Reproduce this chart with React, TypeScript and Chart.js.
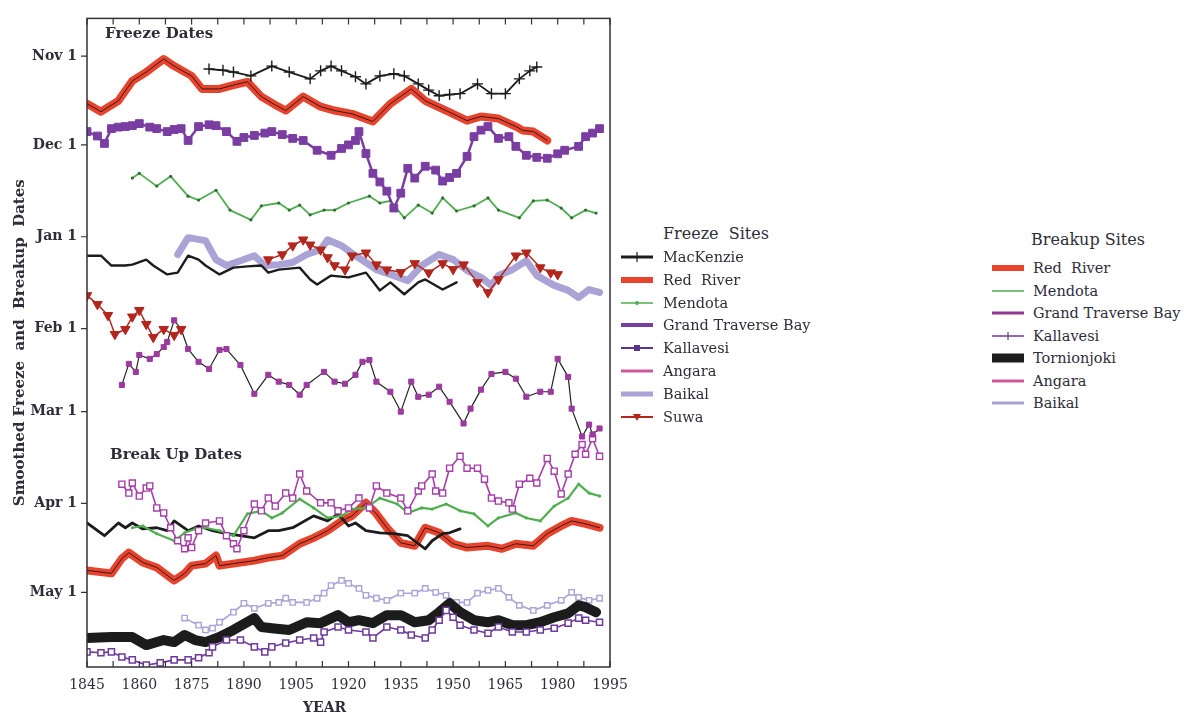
import React, { useEffect, useRef } from 'react';
import { Chart, registerables } from 'chart.js';

Chart.register(...registerables);

const FONT = "'DejaVu Serif', 'Liberation Serif', serif";
const TEXT = '#2e2e3a';

// Axis ticks
const yearTicks = [1845, 1860, 1875, 1890, 1905, 1920, 1935, 1950, 1965, 1980, 1995];
// days after Nov 1
const dateTickDays = [0, 30, 61, 92, 120, 151, 181];
const dateTickLabels = ['Nov 1', 'Dec 1', 'Jan 1', 'Feb 1', 'Mar 1', 'Apr 1', 'May 1'];

// ---------- Freeze series: [year, days after Nov 1] ----------
const mackenzieFreeze: [number, number][] = [
  [1880, 4.4], [1884, 4.8], [1887, 5.4], [1892, 6.7], [1898, 3.4], [1903, 5.4], [1909, 7.7], [1912, 5.0],
  [1915, 3.4], [1918, 5.0], [1922, 7.0], [1925, 9.4], [1929, 6.7], [1933, 6.0], [1936, 6.7], [1940, 9.4],
  [1943, 11.5], [1946, 13.4], [1949, 13.0], [1952, 12.7], [1957, 9.4], [1961, 12.7], [1965, 12.7],
  [1969, 7.7], [1972, 5.0], [1974, 3.7],
];
const redRiverFreeze: [number, number][] = [
  [1845, 16.1], [1849, 18.8], [1854, 15.1], [1858, 8.4], [1862, 5.4], [1867, 1.0], [1870, 3.4], [1875, 6.7],
  [1878, 11.1], [1883, 11.1], [1887, 9.8], [1891, 8.7], [1895, 13.7], [1899, 16.5], [1902, 18.4], [1907, 13.7],
  [1912, 17.1], [1916, 18.4], [1921, 19.5], [1927, 22.1], [1932, 16.1], [1938, 11.1], [1942, 15.1],
  [1948, 18.4], [1954, 21.8], [1958, 20.4], [1963, 21.1], [1968, 23.8], [1970, 25.1], [1973, 25.5], [1977, 28.5],
];
const kallavesiFreeze: [number, number][] = [
  [1845, 25.5], [1848, 27.0], [1850, 29.5], [1852, 24.5], [1854, 24.0], [1856, 23.8], [1858, 23.5], [1860, 22.8],
  [1863, 24.0], [1865, 24.5], [1868, 25.5], [1870, 24.8], [1872, 24.5], [1874, 28.5], [1877, 23.8], [1880, 23.2],
  [1882, 23.5], [1885, 25.5], [1888, 28.8], [1890, 27.5], [1893, 26.8], [1896, 26.0], [1898, 25.5], [1901, 26.5],
  [1904, 27.8], [1907, 28.5], [1911, 31.8], [1915, 33.5], [1918, 31.2], [1920, 30.0], [1922, 28.5], [1923, 25.5],
  [1925, 32.9], [1927, 39.6], [1929, 42.5], [1931, 45.6], [1933, 51.3], [1935, 46.3], [1937, 37.9], [1939, 41.2],
  [1942, 37.2], [1945, 38.5], [1947, 42.2], [1949, 41.0], [1951, 39.6], [1954, 33.9], [1956, 27.2], [1958, 25.0],
  [1960, 23.8], [1963, 27.8], [1966, 27.2], [1968, 30.5], [1971, 33.5], [1974, 34.2], [1977, 34.5], [1980, 33.0],
  [1982, 31.8], [1986, 30.5], [1988, 27.2], [1990, 26.0], [1992, 24.5],
];
const mendotaFreeze: [number, number][] = [
  [1858, 41.2], [1860, 39.6], [1865, 43.9], [1869, 40.6], [1874, 47.3], [1877, 48.6], [1882, 45.3], [1886, 52.0],
  [1892, 55.3], [1895, 50.6], [1900, 49.6], [1903, 52.0], [1906, 50.3], [1909, 53.6], [1913, 52.0], [1916, 52.0],
  [1920, 49.6], [1926, 47.3], [1929, 49.6], [1932, 48.9], [1936, 54.6], [1940, 50.3], [1944, 53.0], [1947, 47.9],
  [1951, 52.3], [1956, 50.6], [1960, 47.9], [1963, 52.0], [1969, 54.6], [1973, 48.9], [1977, 48.6], [1981, 51.3],
  [1984, 54.6], [1988, 52.0], [1991, 53.0],
];
const angaraFreeze: [number, number][] = [
  [1845, 67.4], [1849, 67.4], [1852, 70.7], [1856, 70.7], [1858, 70.4], [1862, 68.7], [1864, 70.7], [1868, 73.7],
  [1871, 73.1], [1874, 67.4], [1877, 68.7], [1879, 70.7], [1883, 73.7], [1887, 71.4], [1891, 71.0], [1895, 70.7],
  [1897, 73.1], [1900, 72.1], [1906, 71.4], [1909, 75.4], [1911, 77.1], [1915, 74.1], [1920, 74.7], [1925, 73.1],
  [1929, 79.1], [1932, 76.4], [1936, 80.4], [1940, 76.4], [1942, 75.4], [1947, 78.8], [1951, 76.4],
];
const baikalFreeze: [number, number][] = [
  [1871, 67.0], [1874, 61.3], [1879, 62.3], [1882, 68.7], [1885, 70.7], [1889, 69.1], [1893, 67.4], [1896, 70.7],
  [1900, 70.4], [1904, 69.7], [1908, 67.0], [1912, 65.4], [1914, 62.0], [1918, 64.0], [1922, 67.4], [1925, 69.7],
  [1928, 72.1], [1932, 73.7], [1937, 75.8], [1941, 70.7], [1946, 67.0], [1950, 68.7], [1954, 72.4], [1958, 74.7],
  [1961, 77.4], [1963, 74.1], [1967, 72.1], [1971, 69.1], [1974, 74.1], [1979, 77.4], [1983, 79.1], [1986, 81.5],
  [1989, 78.8], [1992, 79.8],
];
const suwaFreeze: [number, number | null][] = [
  [1845, 80.8], [1848, 83.8], [1851, 87.5], [1853, 93.9], [1856, 92.2], [1858, 88.0], [1860, 85.8], [1862, 90.5],
  [1864, 94.9], [1867, 92.2], [1870, 94.2], [1872, 92.2], [1885, null],
  [1897, 68.7], [1901, 67.0], [1904, 64.0], [1907, 62.0], [1909, 63.7], [1912, 65.4], [1914, 68.0], [1916, 70.7],
  [1919, 72.1], [1921, 67.4], [1925, 66.4], [1928, 70.4], [1931, 72.1], [1935, 73.0], [1939, 70.0], [1943, 73.1],
  [1947, 70.0], [1950, 72.0], [1953, 70.4], [1957, 76.4], [1960, 79.8], [1963, 75.4], [1968, 67.4], [1971, 66.4],
  [1975, 71.4], [1978, 73.1], [1980, 73.7],
];
const grandTraverseFreeze: [number, number][] = [
  [1855, 111.0], [1857, 103.9], [1859, 106.6], [1860, 100.9], [1863, 102.2], [1865, 100.6], [1867, 98.2],
  [1868, 96.5], [1870, 89.2], [1872, 92.2], [1874, 98.9], [1877, 103.2], [1880, 105.6], [1883, 99.2], [1885, 98.9],
  [1889, 104.3], [1893, 114.0], [1897, 107.6], [1900, 109.9], [1903, 111.0], [1906, 114.3], [1908, 111.0],
  [1913, 106.6], [1916, 109.9], [1919, 110.6], [1922, 107.6], [1924, 103.2], [1926, 102.6], [1928, 109.9],
  [1932, 113.3], [1935, 120.0], [1938, 109.9], [1940, 115.0], [1943, 114.3], [1946, 111.6], [1949, 116.7],
  [1953, 124.0], [1955, 119.0], [1958, 112.6], [1961, 107.3], [1965, 106.6], [1968, 108.9], [1971, 115.0],
  [1975, 113.3], [1978, 113.3], [1980, 102.2], [1983, 108.3], [1984, 119.0], [1987, 128.4], [1989, 124.4],
  [1990, 127.7], [1992, 125.7],
];

// ---------- Breakup series ----------
const grandTraverseBreakup: [number, number][] = [
  [1855, 144.5], [1857, 147.5], [1858, 144.1], [1860, 148.5], [1862, 145.8], [1863, 145.1], [1865, 152.5],
  [1867, 154.2], [1869, 159.2], [1871, 163.6], [1873, 166.3], [1874, 162.6], [1875, 165.9], [1877, 160.2],
  [1879, 157.6], [1883, 156.9], [1885, 161.9], [1887, 164.6], [1888, 166.3], [1890, 160.2], [1893, 151.2],
  [1895, 153.5], [1897, 149.2], [1899, 151.9], [1902, 147.5], [1904, 149.2], [1906, 141.1], [1908, 146.8],
  [1912, 150.8], [1915, 150.8], [1917, 153.5], [1920, 152.5], [1923, 149.2], [1926, 152.5], [1928, 145.1],
  [1931, 147.5], [1935, 149.2], [1937, 153.5], [1940, 146.8], [1941, 145.1], [1944, 141.1], [1945, 146.8],
  [1947, 147.5], [1949, 139.1], [1952, 135.1], [1954, 139.1], [1957, 139.1], [1959, 142.8], [1961, 149.2],
  [1963, 150.2], [1966, 150.8], [1967, 152.9], [1969, 144.5], [1972, 142.5], [1974, 144.1], [1977, 135.8],
  [1979, 140.1], [1981, 147.8], [1983, 141.1], [1985, 134.4], [1987, 131.1], [1988, 134.4], [1990, 129.1],
  [1992, 135.1],
];
const mendotaBreakup: [number, number][] = [
  [1858, 159.2], [1861, 158.6], [1865, 161.2], [1870, 163.6], [1873, 160.9], [1876, 159.6], [1879, 159.2],
  [1883, 160.2], [1887, 161.9], [1891, 154.5], [1895, 153.5], [1898, 155.9], [1901, 154.2], [1906, 149.5],
  [1910, 152.5], [1914, 155.9], [1918, 155.2], [1921, 152.9], [1925, 152.5], [1929, 149.2], [1934, 151.2],
  [1937, 154.2], [1941, 152.5], [1944, 152.9], [1948, 151.2], [1952, 153.5], [1956, 154.5], [1960, 158.6],
  [1963, 155.9], [1968, 154.2], [1971, 155.9], [1975, 156.9], [1979, 151.9], [1983, 149.2], [1986, 144.5],
  [1989, 147.5], [1992, 148.5],
];
const angaraBreakup: [number, number][] = [
  [1845, 157.6], [1850, 161.9], [1854, 157.6], [1856, 159.2], [1858, 157.6], [1861, 159.6], [1865, 159.2],
  [1868, 160.2], [1870, 156.9], [1874, 160.2], [1877, 158.6], [1881, 160.2], [1885, 161.2], [1889, 161.9],
  [1893, 162.6], [1897, 160.2], [1900, 160.2], [1904, 159.2], [1910, 155.2], [1914, 156.9], [1917, 154.5],
  [1920, 158.6], [1922, 157.6], [1925, 160.2], [1929, 160.9], [1933, 161.2], [1937, 161.9], [1940, 164.6],
  [1942, 166.3], [1944, 163.6], [1947, 161.2], [1949, 160.9], [1952, 159.6],
];
const redRiverBreakup: [number, number][] = [
  [1845, 173.6], [1852, 174.6], [1855, 169.6], [1857, 167.6], [1861, 170.9], [1865, 172.6], [1870, 177.0],
  [1873, 174.6], [1875, 172.0], [1879, 171.3], [1882, 168.6], [1883, 172.0], [1887, 171.3], [1893, 170.3],
  [1897, 169.3], [1901, 168.6], [1906, 164.6], [1910, 162.6], [1914, 160.2], [1918, 156.9], [1921, 155.2],
  [1925, 150.8], [1928, 154.5], [1931, 159.2], [1935, 164.3], [1939, 165.3], [1942, 159.2], [1946, 160.9],
  [1950, 164.6], [1954, 165.9], [1960, 165.3], [1964, 166.3], [1968, 164.6], [1973, 165.3], [1977, 161.2],
  [1981, 158.6], [1984, 156.9], [1988, 157.9], [1992, 159.2],
];
const baikalBreakup: [number, number][] = [
  [1873, 189.7], [1877, 192.1], [1879, 193.7], [1881, 193.1], [1883, 191.1], [1887, 187.7], [1890, 184.7],
  [1893, 186.4], [1897, 184.7], [1900, 184.4], [1902, 183.0], [1904, 184.4], [1908, 184.4], [1911, 183.0],
  [1913, 181.3], [1915, 178.7], [1918, 177.0], [1920, 178.0], [1923, 179.7], [1925, 182.0], [1928, 183.0],
  [1931, 183.7], [1935, 181.3], [1939, 181.3], [1942, 179.7], [1945, 181.0], [1948, 182.0], [1951, 184.4],
  [1954, 184.4], [1957, 181.3], [1960, 180.3], [1963, 179.7], [1966, 182.7], [1969, 185.4], [1973, 187.1],
  [1977, 185.4], [1981, 183.7], [1984, 181.0], [1986, 182.7], [1989, 183.7], [1992, 183.0],
];
const tornionjokiBreakup: [number, number][] = [
  [1845, 196.4], [1852, 196.1], [1858, 196.1], [1862, 198.8], [1867, 197.1], [1870, 197.8], [1873, 195.4],
  [1876, 197.1], [1879, 197.8], [1883, 196.1], [1887, 193.7], [1893, 189.7], [1895, 192.7], [1898, 193.1],
  [1903, 193.7], [1908, 191.1], [1912, 191.4], [1917, 188.7], [1920, 191.1], [1923, 190.4], [1927, 191.4],
  [1931, 188.7], [1935, 188.7], [1939, 191.1], [1943, 190.4], [1946, 187.7], [1949, 184.7], [1952, 187.7],
  [1956, 190.4], [1960, 191.1], [1963, 190.4], [1967, 192.1], [1971, 192.1], [1975, 191.1], [1979, 189.4],
  [1983, 188.1], [1986, 185.4], [1988, 186.0], [1991, 187.7],
];
const kallavesiBreakup: [number, number][] = [
  [1845, 201.1], [1849, 201.4], [1852, 201.1], [1855, 202.8], [1858, 203.8], [1862, 205.5], [1866, 204.8],
  [1870, 203.8], [1874, 203.8], [1877, 203.1], [1880, 201.4], [1881, 199.4], [1885, 197.1], [1889, 197.1],
  [1893, 199.4], [1896, 201.1], [1898, 199.4], [1902, 198.1], [1906, 197.1], [1910, 196.4], [1912, 197.8],
  [1913, 194.4], [1917, 192.7], [1920, 193.7], [1925, 194.4], [1927, 196.4], [1931, 192.7], [1935, 193.7],
  [1938, 195.4], [1942, 196.4], [1944, 193.7], [1946, 190.4], [1948, 187.1], [1950, 189.4], [1952, 192.1],
  [1956, 193.7], [1960, 194.8], [1963, 192.7], [1967, 194.4], [1971, 194.4], [1975, 193.7], [1979, 193.1],
  [1983, 191.4], [1986, 189.7], [1988, 190.4], [1992, 191.1],
];

const freezeLegendLabels = ['MacKenzie', 'Red  River', 'Mendota', 'Grand Traverse Bay', 'Kallavesi', 'Angara', 'Baikal', 'Suwa'];
const breakupLegendLabels = ['Red  River', 'Mendota', 'Grand Traverse Bay', 'Kallavesi', 'Tornionjoki', 'Angara', 'Baikal'];

const C = {
  red: '#e8432d',
  black: '#1c1c1c',
  green: '#4fae4f',
  purple: '#7a3da2',
  magenta: '#9c3a9e',
  lavender: '#a9a3d6',
  suwa: '#b3261e',
  pink: '#d0559f',
  kbreak: '#6d3a9c',
};

const toXY = (s: [number, number | null][]) => s.map(([x, y]) => ({ x, y }));

function line(label: string, data: [number, number | null][], order: number, opts: any) {
  return {
    label,
    data: toXY(data),
    order,
    fill: false,
    tension: 0,
    pointRadius: 0,
    borderJoinStyle: 'round',
    borderCapStyle: 'round',
    spanGaps: false,
    ...opts,
  };
}

const framePlugin = {
  id: 'frame',
  afterDatasetsDraw(chart: any) {
    const { ctx, chartArea: a, scales } = chart;
    const xs = scales.x;
    const ys = scales.y;
    ctx.save();
    ctx.strokeStyle = '#333';
    ctx.lineWidth = 1.5;
    ctx.strokeRect(a.left, a.top, a.right - a.left, a.bottom - a.top);
    ctx.lineWidth = 1.2;
    const vals: number[] = [];
    yearTicks.forEach((v, i) => {
      vals.push(v);
      if (i < yearTicks.length - 1) vals.push((v + yearTicks[i + 1]) / 2);
    });
    ctx.beginPath();
    vals.forEach((v) => {
      const p = xs.getPixelForValue(v);
      ctx.moveTo(p, a.bottom);
      ctx.lineTo(p, a.bottom - 6);
      ctx.moveTo(p, a.top);
      ctx.lineTo(p, a.top + 6);
    });
    dateTickDays.forEach((v) => {
      const p = ys.getPixelForValue(v);
      ctx.moveTo(a.left - 6, p);
      ctx.lineTo(a.left, p);
    });
    ctx.stroke();
    ctx.restore();
  },
};

function Sample({ kind }: { kind: string }) {
  const w = 36;
  const h = 16;
  const m = h / 2;
  const L = (color: string, width: number) => (
    <line x1={2} y1={m} x2={w - 2} y2={m} stroke={color} strokeWidth={width} />
  );
  let body: React.ReactNode = null;
  switch (kind) {
    case 'mack':
      body = (<>{L(C.black, 3)}<line x1={w / 2} y1={m - 5} x2={w / 2} y2={m + 5} stroke={C.black} strokeWidth={1.2} /></>);
      break;
    case 'red':
      body = L(C.red, 6);
      break;
    case 'mendota':
      body = (<>{L(C.green, 1.5)}<circle cx={w / 2} cy={m} r={2} fill={C.green} /></>);
      break;
    case 'gtbF':
      body = L(C.purple, 4);
      break;
    case 'kallF':
      body = (<>{L('#5a3490', 2)}<rect x={w / 2 - 3} y={m - 3} width={6} height={6} fill="#5a3490" /></>);
      break;
    case 'angara':
      body = L(C.pink, 3);
      break;
    case 'baikalF':
      body = L(C.lavender, 5);
      break;
    case 'suwa':
      body = (<>{L(C.suwa, 2)}<polygon points={`${w / 2 - 4},${m - 3} ${w / 2 + 4},${m - 3} ${w / 2},${m + 4}`} fill={C.suwa} /></>);
      break;
    case 'mendotaB':
      body = L(C.green, 1.5);
      break;
    case 'gtbB':
      body = L('#8e3a90', 3);
      break;
    case 'kallB':
      body = (<>{L(C.kbreak, 1.5)}<line x1={w / 2} y1={m - 4} x2={w / 2} y2={m + 4} stroke={C.kbreak} strokeWidth={1.2} /></>);
      break;
    case 'torn':
      body = L(C.black, 9);
      break;
    case 'baikalB':
      body = L(C.lavender, 3);
      break;
  }
  return (
    <svg width={w} height={h} style={{ display: 'block' }}>
      {body}
    </svg>
  );
}

const freezeKinds = ['mack', 'red', 'mendota', 'gtbF', 'kallF', 'angara', 'baikalF', 'suwa'];
const breakupKinds = ['red', 'mendotaB', 'gtbB', 'kallB', 'torn', 'angara', 'baikalB'];

export default function App() {
  const ref = useRef<HTMLCanvasElement | null>(null);

  useEffect(() => {
    if (!ref.current) return;
    const datasets: any[] = [
      // freeze
      line('MacKenzie', mackenzieFreeze, 2, {
        borderColor: C.black, borderWidth: 1.8, pointStyle: 'cross', pointRadius: 5.5,
        pointBorderColor: C.black, pointBorderWidth: 1.4,
      }),
      line('Red River (freeze) core', redRiverFreeze, 3, { borderColor: '#3a1a14', borderWidth: 1 }),
      line('Red River (freeze)', redRiverFreeze, 4, { borderColor: C.red, borderWidth: 8 }),
      line('Kallavesi (freeze)', kallavesiFreeze, 5, {
        borderColor: C.purple, borderWidth: 2.5, pointStyle: 'rect', pointRadius: 5.5,
        pointBackgroundColor: C.purple, pointBorderColor: C.purple, pointBorderWidth: 1,
      }),
      line('Mendota (freeze)', mendotaFreeze, 6, {
        borderColor: C.green, borderWidth: 1.8, pointRadius: 1.6,
        pointBackgroundColor: '#2f6e2f', pointBorderColor: '#2f6e2f', pointBorderWidth: 0,
      }),
      line('Suwa', suwaFreeze, 7, {
        borderColor: C.suwa, borderWidth: 1.5, pointStyle: 'triangle', rotation: 180, pointRadius: 5.5,
        pointBackgroundColor: C.suwa, pointBorderColor: C.suwa, pointBorderWidth: 1,
      }),
      line('Angara (freeze)', angaraFreeze, 8, { borderColor: C.black, borderWidth: 2.4 }),
      line('Baikal (freeze)', baikalFreeze, 9, { borderColor: C.lavender, borderWidth: 7 }),
      line('Grand Traverse Bay (freeze)', grandTraverseFreeze, 10, {
        borderColor: '#222', borderWidth: 1.2, pointStyle: 'rect', pointRadius: 3.6,
        pointBackgroundColor: C.magenta, pointBorderColor: C.magenta, pointBorderWidth: 1,
      }),
      // breakup
      line('Grand Traverse Bay (breakup)', grandTraverseBreakup, 11, {
        borderColor: '#a53ea8', borderWidth: 1.6, pointStyle: 'rect', pointRadius: 4.3,
        pointBackgroundColor: '#ffffff', pointBorderColor: '#a53ea8', pointBorderWidth: 1.4,
      }),
      line('Mendota (breakup)', mendotaBreakup, 12, {
        borderColor: C.green, borderWidth: 2.2, pointRadius: 1.6,
        pointBackgroundColor: C.green, pointBorderColor: C.green, pointBorderWidth: 0,
      }),
      line('Angara (breakup)', angaraBreakup, 13, { borderColor: C.black, borderWidth: 2.8 }),
      line('Red River (breakup) core', redRiverBreakup, 14, { borderColor: '#3a1a14', borderWidth: 1 }),
      line('Red River (breakup)', redRiverBreakup, 15, { borderColor: C.red, borderWidth: 8 }),
      line('Kallavesi (breakup)', kallavesiBreakup, 16, {
        borderColor: C.kbreak, borderWidth: 1.6, pointStyle: 'rect', pointRadius: 4.3,
        pointBackgroundColor: '#ffffff', pointBorderColor: C.kbreak, pointBorderWidth: 1.5,
      }),
      line('Tornionjoki', tornionjokiBreakup, 17, { borderColor: C.black, borderWidth: 10 }),
      line('Baikal (breakup)', baikalBreakup, 18, {
        borderColor: C.lavender, borderWidth: 1.6, pointStyle: 'rect', pointRadius: 3.8,
        pointBackgroundColor: '#ffffff', pointBorderColor: C.lavender, pointBorderWidth: 1.4,
      }),
    ];

    const chart = new Chart(ref.current, {
      type: 'line',
      data: { datasets },
      plugins: [framePlugin],
      options: {
        animation: false,
        responsive: false,
        events: [],
        layout: { padding: { top: 14, right: 30, left: 0, bottom: 0 } },
        plugins: { legend: { display: false }, tooltip: { enabled: false } },
        scales: {
          x: {
            type: 'linear',
            min: 1845,
            max: 1995,
            afterBuildTicks: (s: any) => { s.ticks = yearTicks.map((v) => ({ value: v })); },
            afterFit: (s: any) => { s.height = 48; },
            grid: { display: false, drawTicks: false },
            border: { display: false },
            ticks: {
              padding: 10, autoSkip: false, maxRotation: 0, color: TEXT,
              font: { family: FONT, size: 14 },
              callback: (v: any) => String(v),
            },
          },
          y: {
            type: 'linear',
            reverse: true,
            min: -12.7,
            max: 206.2,
            afterBuildTicks: (s: any) => { s.ticks = dateTickDays.map((v) => ({ value: v })); },
            afterFit: (s: any) => { s.width = 87; },
            grid: { display: false, drawTicks: false },
            border: { display: false },
            ticks: {
              padding: 10, autoSkip: false, color: TEXT,
              font: { family: FONT, size: 14, weight: 'bold' },
              callback: (v: any) => {
                const i = dateTickDays.indexOf(Number(v));
                return i >= 0 ? dateTickLabels[i] : '';
              },
            },
            title: {
              display: true,
              text: 'Smoothed Freeze  and  Breakup  Dates',
              color: TEXT,
              font: { family: FONT, size: 15, weight: 'bold' },
              padding: { top: 11, bottom: 0 },
            },
          },
        },
      } as any,
    });
    return () => chart.destroy();
  }, []);

  const rowF = 22.8;
  const rowB = 22.5;

  return (
    <div style={{ position: 'fixed', left: 0, top: 0, width: 1184, height: 715, background: '#fff', fontFamily: FONT, color: TEXT }}>
      <canvas ref={ref} width={640} height={715} style={{ position: 'absolute', left: 0, top: 0 }} />
      <div style={{ position: 'absolute', left: 105, top: 24, fontSize: 15, fontWeight: 'bold', whiteSpace: 'pre', lineHeight: '18px' }}>Freeze Dates</div>
      <div style={{ position: 'absolute', left: 110, top: 445, fontSize: 15, fontWeight: 'bold', whiteSpace: 'pre', lineHeight: '18px' }}>Break Up Dates</div>
      <div style={{ position: 'absolute', left: 303, top: 698, fontSize: 14, fontWeight: 'bold', lineHeight: '18px' }}>YEAR</div>

      <div style={{ position: 'absolute', left: 663, top: 224, fontSize: 16, whiteSpace: 'pre', lineHeight: '20px' }}>Freeze  Sites</div>
      {freezeLegendLabels.map((lab, i) => (
        <div key={'f' + i} style={{ position: 'absolute', left: 619, top: 257 + i * rowF - 10, height: 20, display: 'flex', alignItems: 'center' }}>
          <Sample kind={freezeKinds[i]} />
          <span style={{ marginLeft: 8, fontSize: 14.5, whiteSpace: 'pre', lineHeight: '20px' }}>{lab}</span>
        </div>
      ))}

      <div style={{ position: 'absolute', left: 1031, top: 230, fontSize: 16, whiteSpace: 'pre', lineHeight: '20px' }}>Breakup Sites</div>
      {breakupLegendLabels.map((lab, i) => (
        <div key={'b' + i} style={{ position: 'absolute', left: 990, top: 268 + i * rowB - 10, height: 20, display: 'flex', alignItems: 'center' }}>
          <Sample kind={breakupKinds[i]} />
          <span style={{ marginLeft: 7, fontSize: 14.5, whiteSpace: 'pre', lineHeight: '20px' }}>{lab}</span>
        </div>
      ))}
    </div>
  );
}
